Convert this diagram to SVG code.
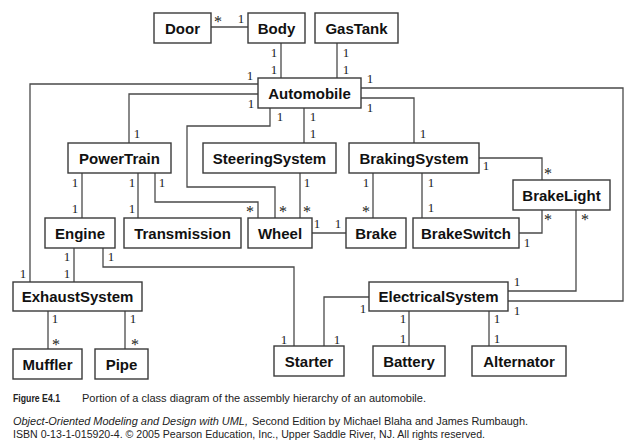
<svg xmlns="http://www.w3.org/2000/svg" width="636" height="448" viewBox="0 0 636 448">
<style>
.b{fill:#fff;stroke:#3a3a3a;stroke-width:1.4}
.n{font-family:"Liberation Sans",Arial,sans-serif;font-weight:bold;font-size:15px;fill:#111;text-anchor:middle}
.c{fill:none;stroke:#4a4a4a;stroke-width:1.3}
.m{font-family:"Liberation Serif","Times New Roman",serif;font-size:13px;fill:#222;text-anchor:middle}
.s{font-family:"Liberation Serif","Times New Roman",serif;font-size:16px;fill:#222;text-anchor:middle}
.cap{font-family:"Liberation Sans",Arial,sans-serif;font-size:10px;fill:#222}
</style>
<rect width="636" height="448" fill="#fff"/>
<g id="connectors">
<polyline class="c" points="211,27 248,27"/>
<polyline class="c" points="281,43 281,78"/>
<polyline class="c" points="337,43 337,78"/>
<polyline class="c" points="258,84 30,84 30,282"/>
<polyline class="c" points="258,94 129,94 129,143"/>
<polyline class="c" points="270,108 270,126 187,126 187,187 275,187 275,218"/>
<polyline class="c" points="304,108 304,143"/>
<polyline class="c" points="361,88 623,88 623,301 508,301"/>
<polyline class="c" points="361,98 414,98 414,143"/>
<polyline class="c" points="479,158 542,158 542,180"/>
<polyline class="c" points="82,173 82,218"/>
<polyline class="c" points="138,173 138,218"/>
<polyline class="c" points="155,173 155,202 258,202 258,218"/>
<polyline class="c" points="300,173 300,218"/>
<polyline class="c" points="312,233 346,233"/>
<polyline class="c" points="373,173 373,218"/>
<polyline class="c" points="422,173 422,218"/>
<polyline class="c" points="519,233 542,233 542,210"/>
<polyline class="c" points="576,210 576,291 508,291"/>
<polyline class="c" points="74,248 74,282"/>
<polyline class="c" points="103,248 103,267 294,267 294,346"/>
<polyline class="c" points="48,311 48,349"/>
<polyline class="c" points="125,311 125,349"/>
<polyline class="c" points="369,297 324,297 324,346"/>
<polyline class="c" points="409,311 409,346"/>
<polyline class="c" points="489,311 489,346"/>
</g>
<g id="multiplicities">
<text class="s" x="218" y="27">*</text><text class="m" x="241" y="23">1</text>
<text class="m" x="274" y="57">1</text><text class="m" x="274" y="74">1</text>
<text class="m" x="346" y="57">1</text><text class="m" x="346" y="74">1</text>
<text class="m" x="250" y="80">1</text><text class="m" x="23" y="278">1</text>
<text class="m" x="251" y="108">1</text><text class="m" x="137" y="138">1</text>
<text class="m" x="280" y="121">1</text><text class="s" x="283" y="217">*</text>
<text class="m" x="313" y="121">1</text><text class="m" x="313" y="138">1</text>
<text class="m" x="370" y="83">1</text><text class="m" x="517" y="315">1</text>
<text class="m" x="370" y="112">1</text><text class="m" x="423" y="138">1</text>
<text class="m" x="486" y="170">1</text><text class="s" x="548" y="179">*</text>
<text class="m" x="75" y="187">1</text><text class="m" x="75" y="213">1</text>
<text class="m" x="132" y="187">1</text><text class="m" x="132" y="213">1</text>
<text class="m" x="162" y="187">1</text><text class="s" x="250" y="217">*</text>
<text class="m" x="307" y="187">1</text><text class="s" x="307" y="217">*</text>
<text class="m" x="317" y="228">1</text><text class="m" x="338" y="228">1</text>
<text class="m" x="366" y="187">1</text><text class="s" x="366" y="217">*</text>
<text class="m" x="431" y="187">1</text><text class="m" x="431" y="212">1</text>
<text class="m" x="527" y="247">1</text><text class="s" x="548" y="225">*</text>
<text class="s" x="585" y="225">*</text><text class="m" x="517" y="286">1</text>
<text class="m" x="67" y="261">1</text><text class="m" x="67" y="278">1</text>
<text class="m" x="111" y="261">1</text><text class="m" x="284" y="344">1</text>
<text class="m" x="55" y="323">1</text><text class="s" x="56" y="350">*</text>
<text class="m" x="133" y="323">1</text><text class="s" x="135" y="350">*</text>
<text class="m" x="363" y="313">1</text><text class="m" x="337" y="344">1</text>
<text class="m" x="403" y="323">1</text><text class="m" x="403" y="343">1</text>
<text class="m" x="497" y="323">1</text><text class="m" x="497" y="343">1</text>
</g>
<g id="Door"><rect class="b" x="154" y="13" width="57" height="30"/><text class="n" x="182.5" y="33.5">Door</text></g>
<g id="Body"><rect class="b" x="248" y="13" width="57" height="30"/><text class="n" x="276.5" y="33.5">Body</text></g>
<g id="GasTank"><rect class="b" x="315" y="13" width="83" height="30"/><text class="n" x="356.5" y="33.5">GasTank</text></g>
<g id="Automobile"><rect class="b" x="258" y="78" width="103" height="30"/><text class="n" x="309.5" y="98.5">Automobile</text></g>
<g id="PowerTrain"><rect class="b" x="68" y="143" width="103" height="30"/><text class="n" x="119.5" y="163.5">PowerTrain</text></g>
<g id="SteeringSystem"><rect class="b" x="203" y="143" width="133" height="30"/><text class="n" x="269.5" y="163.5">SteeringSystem</text></g>
<g id="BrakingSystem"><rect class="b" x="349" y="143" width="130" height="30"/><text class="n" x="414" y="163.5">BrakingSystem</text></g>
<g id="BrakeLight"><rect class="b" x="513" y="180" width="97" height="30"/><text class="n" x="561.5" y="200.5">BrakeLight</text></g>
<g id="Engine"><rect class="b" x="45" y="218" width="70" height="30"/><text class="n" x="80" y="238.5">Engine</text></g>
<g id="Transmission"><rect class="b" x="124" y="218" width="117" height="30"/><text class="n" x="182.5" y="238.5">Transmission</text></g>
<g id="Wheel"><rect class="b" x="248" y="218" width="64" height="30"/><text class="n" x="280" y="238.5">Wheel</text></g>
<g id="Brake"><rect class="b" x="346" y="218" width="60" height="30"/><text class="n" x="376" y="238.5">Brake</text></g>
<g id="BrakeSwitch"><rect class="b" x="413" y="218" width="106" height="30"/><text class="n" x="466" y="238.5">BrakeSwitch</text></g>
<g id="ExhaustSystem"><rect class="b" x="13" y="282" width="129" height="29"/><text class="n" x="77.5" y="302">ExhaustSystem</text></g>
<g id="ElectricalSystem"><rect class="b" x="369" y="282" width="139" height="29"/><text class="n" x="438.5" y="302">ElectricalSystem</text></g>
<g id="Muffler"><rect class="b" x="13" y="349" width="69" height="30"/><text class="n" x="47.5" y="369.5">Muffler</text></g>
<g id="Pipe"><rect class="b" x="95" y="349" width="53" height="30"/><text class="n" x="121.5" y="369.5">Pipe</text></g>
<g id="Starter"><rect class="b" x="274" y="346" width="70" height="30"/><text class="n" x="309" y="366.5">Starter</text></g>
<g id="Battery"><rect class="b" x="373" y="346" width="72" height="30"/><text class="n" x="409" y="366.5">Battery</text></g>
<g id="Alternator"><rect class="b" x="472" y="346" width="94" height="30"/><text class="n" x="519" y="366.5">Alternator</text></g>
<g id="caption">
<text class="cap" x="13" y="402" font-weight="bold" font-size="9.5" textLength="47" lengthAdjust="spacingAndGlyphs">Figure E4.1</text>
<text class="cap" x="82" y="402" textLength="344" lengthAdjust="spacingAndGlyphs">Portion of a class diagram of the assembly hierarchy of an automobile.</text>
<text class="cap" x="13" y="425" font-style="italic" textLength="235" lengthAdjust="spacingAndGlyphs">Object-Oriented Modeling and Design with UML,</text>
<text class="cap" x="252" y="425" textLength="276" lengthAdjust="spacingAndGlyphs">Second Edition by Michael Blaha and James Rumbaugh.</text>
<text class="cap" x="13" y="438" textLength="472" lengthAdjust="spacingAndGlyphs">ISBN 0-13-1-015920-4. © 2005 Pearson Education, Inc., Upper Saddle River, NJ. All rights reserved.</text>
</g>
</svg>
